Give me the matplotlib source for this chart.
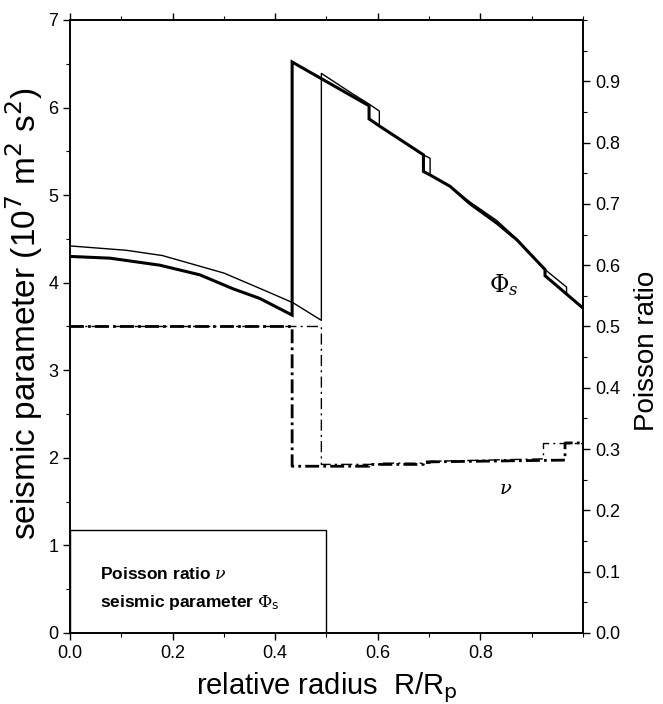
import matplotlib
matplotlib.use('Agg')
import matplotlib.pyplot as plt
from matplotlib.patches import Rectangle
from matplotlib.ticker import MultipleLocator

plt.rcParams['font.family'] = ['Liberation Sans', 'DejaVu Sans']
plt.rcParams['mathtext.fontset'] = 'dejavuserif'

# seismic parameter, model A (thick) and model B (thin), units 1e7 m^2 s^-2
r_phi_a = [0.0, 0.078, 0.175, 0.253, 0.318, 0.370, 0.433, 0.433, 0.49, 0.55, 0.583, 0.583, 0.603,
           0.689, 0.689, 0.702, 0.741, 0.78, 0.832, 0.871, 0.926, 0.926, 0.968, 1.0]
phi_a = [4.30, 4.28, 4.20, 4.09, 3.93, 3.82, 3.63, 6.52, 6.33, 6.13, 6.02, 5.87, 5.79,
         5.46, 5.27, 5.23, 5.10, 4.90, 4.68, 4.49, 4.15, 4.08, 3.87, 3.71]
r_phi_b = [0.0, 0.11, 0.18, 0.30, 0.384, 0.435, 0.49, 0.49, 0.55, 0.583, 0.603, 0.603,
           0.689, 0.702, 0.702, 0.741, 0.78, 0.832, 0.871, 0.926, 0.968, 0.968, 1.0]
phi_b = [4.42, 4.37, 4.31, 4.11, 3.90, 3.77, 3.57, 6.39, 6.16, 6.04, 5.96, 5.79,
         5.46, 5.42, 5.23, 5.10, 4.92, 4.71, 4.50, 4.15, 3.95, 3.87, 3.71]

# Poisson ratio
r_nu_a = [0.0, 0.433, 0.433, 0.583, 0.583, 0.689, 0.689, 0.965, 0.965, 1.0]
nu_a = [0.5, 0.5, 0.272, 0.272, 0.275, 0.275, 0.279, 0.282, 0.31, 0.31]
r_nu_b = [0.0, 0.49, 0.49, 0.603, 0.603, 0.702, 0.702, 0.923, 0.923, 1.0]
nu_b = [0.5, 0.5, 0.275, 0.275, 0.277, 0.277, 0.280, 0.284, 0.309, 0.309]

x_ticks = [0.0, 0.2, 0.4, 0.6, 0.8]
nu_ticks = [0.0, 0.1, 0.2, 0.3, 0.4, 0.5, 0.6, 0.7, 0.8, 0.9]

fig = plt.figure(figsize=(6.63, 7.04), dpi=100)
ax = fig.add_axes([0.1056, 0.1009, 0.7737, 0.8707])
ax2 = ax.twinx()

ax.plot(r_phi_a, phi_a, color='black', lw=2.2, solid_joinstyle='miter')
ax.plot(r_phi_b, phi_b, color='black', lw=1.0)
ax2.plot(r_nu_a, nu_a, color='black', lw=2.0, linestyle=(0, (5, 1.5, 1, 1.5)))
ax2.plot(r_nu_b, nu_b, color='black', lw=1.0, linestyle=(0, (8, 3, 1.5, 3)))

# legend box in the lower left
ax.add_patch(Rectangle((0.0, 0.0), 0.5, 1.18, fill=False, lw=1.0, color='black'))
ax.text(0.058, 0.62, r'Poisson ratio $\nu$', fontsize=12.5, fontweight='bold')
ax.text(0.058, 0.30, r'seismic parameter $\Phi_{\mathsf{s}}$', fontsize=12.5, fontweight='bold')

ax.text(0.845, 3.97, r'$\Phi_s$', fontsize=17, ha='center', va='center')
ax.text(0.85, 1.64, r'$\nu$', fontsize=14, ha='center', va='center')

ax.set_xlim(0, 1.0)
ax.set_ylim(0, 7)
ax2.set_ylim(0, 1.0)

ax.set_xticks(x_ticks)
ax.set_xticklabels([f'{t:.1f}' for t in x_ticks])
ax.xaxis.set_minor_locator(MultipleLocator(0.1))
ax.yaxis.set_major_locator(MultipleLocator(1))
ax.yaxis.set_minor_locator(MultipleLocator(0.5))
ax2.set_yticks(nu_ticks)
ax2.set_yticklabels([f'{t:.1f}' for t in nu_ticks])
ax2.yaxis.set_minor_locator(MultipleLocator(0.05))

ax.tick_params(axis='both', which='major', direction='out', length=5, width=1, labelsize=13)
ax.tick_params(axis='both', which='minor', direction='out', length=3, width=0.8)
ax.tick_params(axis='x', top=True, which='both')
ax2.tick_params(axis='y', which='major', direction='out', length=5, width=1, labelsize=13)
ax2.tick_params(axis='y', which='minor', direction='out', length=3, width=0.8)

for a in (ax, ax2):
    for s in a.spines.values():
        s.set_linewidth(1.2)

ax.set_xlabel(r'relative radius  R/R$_\mathsf{p}$', fontsize=21, labelpad=6)
ax.set_ylabel(r'seismic parameter (10$^\mathsf{7}$ m$^\mathsf{2}$ s$^\mathsf{2}$)', fontsize=24)
ax.yaxis.set_label_coords(-0.048, 0.52)
ax2.set_ylabel('Poisson ratio', fontsize=20)
ax2.yaxis.set_label_coords(1.1, 0.46)

fig.savefig('out.png', dpi=100)
